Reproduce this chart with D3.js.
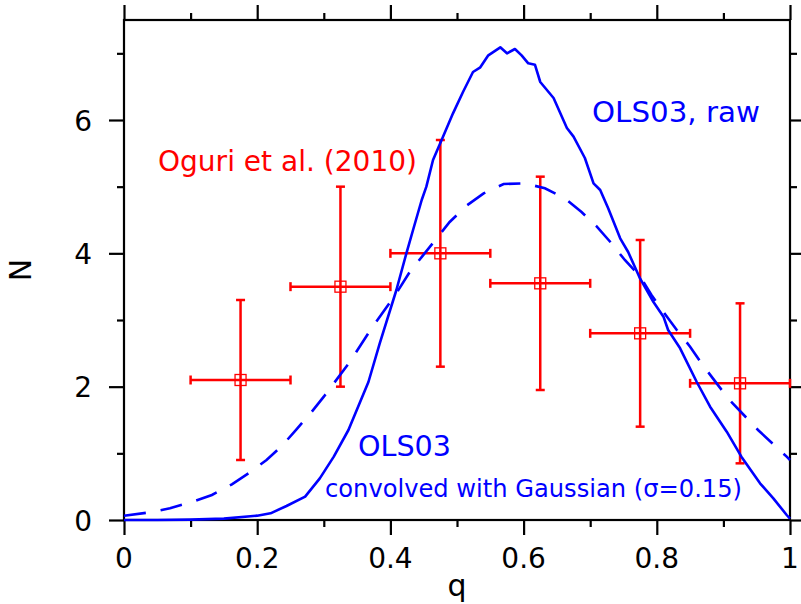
<!DOCTYPE html>
<html><head><meta charset="utf-8">
<script src="https://cdn.jsdelivr.net/npm/d3@7"></script>
<style>body{margin:0;background:#fff} svg{display:block}</style>
</head><body>
<svg id="c" width="801" height="604"></svg>
<script>
// OLS03 raw distribution (solid)
const rawQ = [0, 0.05, 0.1, 0.15, 0.2, 0.22, 0.244, 0.272, 0.294, 0.315, 0.337, 0.367, 0.384, 0.409, 0.424, 0.434, 0.447, 0.454, 0.464, 0.479, 0.494, 0.509, 0.524, 0.535, 0.547, 0.565, 0.575, 0.587, 0.597, 0.607, 0.617, 0.625, 0.645, 0.665, 0.675, 0.692, 0.705, 0.715, 0.727, 0.745, 0.757, 0.775, 0.795, 0.81, 0.817, 0.835, 0.86, 0.88, 0.905, 0.927, 0.955, 0.975, 0.995, 1.0];
const rawN = [0, 0, 0.005, 0.02, 0.065, 0.1, 0.21, 0.35, 0.625, 0.95, 1.35, 2.07, 2.65, 3.45, 4.0, 4.35, 4.8, 5.0, 5.4, 5.75, 6.1, 6.42, 6.72, 6.79, 6.97, 7.09, 7.0, 7.065, 6.97, 6.85, 6.83, 6.57, 6.33, 5.88, 5.75, 5.43, 5.05, 4.95, 4.675, 4.225, 4.02, 3.62, 3.27, 3.05, 2.85, 2.575, 2.07, 1.7, 1.325, 0.95, 0.55, 0.325, 0.075, 0.02];
// OLS03 convolved with Gaussian (dashed)
const convQ = [0, 0.039, 0.069, 0.1, 0.132, 0.162, 0.187, 0.214, 0.237, 0.259, 0.28, 0.3, 0.339, 0.374, 0.407, 0.429, 0.449, 0.489, 0.515, 0.54, 0.57, 0.602, 0.632, 0.662, 0.687, 0.71, 0.732, 0.752, 0.775, 0.792, 0.81, 0.83, 0.85, 0.867, 0.907, 0.952, 0.995, 1.0];
const convN = [0.065, 0.115, 0.175, 0.265, 0.375, 0.535, 0.70, 0.90, 1.11, 1.36, 1.6, 1.85, 2.37, 2.91, 3.37, 3.72, 3.97, 4.47, 4.72, 4.9, 5.04, 5.05, 4.975, 4.825, 4.62, 4.4, 4.15, 3.9, 3.65, 3.375, 3.12, 2.85, 2.6, 2.35, 1.825, 1.35, 0.95, 0.9];
// Oguri et al. (2010)
const binCenter = [0.175, 0.325, 0.475, 0.625, 0.775, 0.925];
const binHalf = [0.075, 0.075, 0.075, 0.075, 0.075, 0.075];
const obsN = [2.1, 3.5, 4.0, 3.55, 2.8, 2.05];
const obsLow = [0.9, 2.0, 2.3, 1.95, 1.4, 0.85];
const obsHigh = [3.3, 5.0, 5.7, 5.15, 4.2, 3.25];
// ticks
const xMajor = [0, 0.2, 0.4, 0.6, 0.8, 1];
const xTickLabels = ["0", "0.2", "0.4", "0.6", "0.8", "1"];
const xMinor = [0.1, 0.3, 0.5, 0.7, 0.9];
const yMajor = [0, 2, 4, 6];
const yTickLabels = ["0", "2", "4", "6"];
const yMinor = [1, 3, 5, 7];

const svg = d3.select("#c");
const FONT = "DejaVu Sans";
const x = d3.scaleLinear().domain([0, 1]).range([124, 790]);
const y = d3.scaleLinear().domain([0, 7.5]).range([520, 20]);
const RED = "#ff0000", BLUE = "#0000ff";

function axisDraw(gen, tx, ty, vals, size) {
  const g = svg.append("g").attr("transform", `translate(${tx},${ty})`)
    .call(gen.tickValues(vals).tickSize(size).tickFormat(""));
  g.select(".domain").remove();
  g.selectAll("line").attr("stroke", "#000").attr("stroke-width", 2.2);
}
axisDraw(d3.axisBottom(x), 0, 520, xMajor, 15);
axisDraw(d3.axisBottom(x), 0, 520, xMinor, 7);
axisDraw(d3.axisTop(x), 0, 20, xMajor, 15);
axisDraw(d3.axisTop(x), 0, 20, xMinor, 7);
axisDraw(d3.axisLeft(y), 124, 0, yMajor, 15);
axisDraw(d3.axisLeft(y), 124, 0, yMinor, 7);
axisDraw(d3.axisRight(y), 790, 0, yMajor, 15);
axisDraw(d3.axisRight(y), 790, 0, yMinor, 7);

svg.append("rect").attr("x", x(0)).attr("y", y(7.5)).attr("width", x(1) - x(0)).attr("height", y(0) - y(7.5))
  .attr("fill", "none").attr("stroke", "#000").attr("stroke-width", 2.2);

// tick labels
svg.append("g").selectAll("text").data(xMajor).join("text")
  .attr("x", d => x(d)).attr("y", 568).attr("text-anchor", "middle")
  .attr("font-family", FONT).attr("font-size", 28).text((d, i) => xTickLabels[i]);
svg.append("g").selectAll("text").data(yMajor).join("text")
  .attr("x", 92).attr("y", d => y(d) + 10.5).attr("text-anchor", "end")
  .attr("font-family", FONT).attr("font-size", 28).text((d, i) => yTickLabels[i]);

// axis titles
svg.append("text").attr("x", 457).attr("y", 596).attr("text-anchor", "middle")
  .attr("font-family", FONT).attr("font-size", 30).text("q");
svg.append("text").attr("transform", "translate(31,270) rotate(-90)").attr("text-anchor", "middle")
  .attr("font-family", FONT).attr("font-size", 30).text("N");

// error bars
const eb = svg.append("g").attr("stroke", RED).attr("stroke-width", 2.5).attr("fill", "none");
binCenter.forEach((c, i) => {
  eb.append("line").attr("x1", x(c)).attr("x2", x(c)).attr("y1", y(obsLow[i])).attr("y2", y(obsHigh[i]));
  eb.append("line").attr("x1", x(c - binHalf[i])).attr("x2", x(c + binHalf[i])).attr("y1", y(obsN[i])).attr("y2", y(obsN[i]));
  [obsLow[i], obsHigh[i]].forEach(v => eb.append("line").attr("x1", x(c) - 4.5).attr("x2", x(c) + 4.5).attr("y1", y(v)).attr("y2", y(v)));
  [c - binHalf[i], c + binHalf[i]].forEach(v => eb.append("line").attr("x1", x(v)).attr("x2", x(v)).attr("y1", y(obsN[i]) - 4.5).attr("y2", y(obsN[i]) + 4.5));
  eb.append("rect").attr("x", x(c) - 5.5).attr("y", y(obsN[i]) - 5.5).attr("width", 11).attr("height", 11)
    .attr("stroke-width", 1.3).attr("fill", "none");
});

// curves
const line = d3.line().x(d => x(d[0])).y(d => y(d[1]));
svg.append("path").datum(rawQ.map((q, i) => [q, rawN[i]])).attr("d", line)
  .attr("fill", "none").attr("stroke", BLUE).attr("stroke-width", 2.6).attr("stroke-linejoin", "round");
svg.append("path").datum(convQ.map((q, i) => [q, convN[i]])).attr("d", line)
  .attr("fill", "none").attr("stroke", BLUE).attr("stroke-width", 2.6).attr("stroke-dasharray", "22,15");

// annotations
svg.append("text").attr("x", 158).attr("y", 171).attr("font-family", FONT).attr("font-size", 28)
  .attr("fill", RED).attr("textLength", 259).attr("lengthAdjust", "spacingAndGlyphs").text("Oguri et al. (2010)");
svg.append("text").attr("x", 592).attr("y", 121.5).attr("font-family", FONT).attr("font-size", 28)
  .attr("fill", BLUE).attr("textLength", 168).attr("lengthAdjust", "spacingAndGlyphs").text("OLS03, raw");
svg.append("text").attr("x", 358).attr("y", 456).attr("font-family", FONT).attr("font-size", 28)
  .attr("fill", BLUE).attr("textLength", 93).attr("lengthAdjust", "spacingAndGlyphs").text("OLS03");
svg.append("text").attr("x", 325).attr("y", 497).attr("font-family", FONT).attr("font-size", 25)
  .attr("fill", BLUE).attr("textLength", 417).attr("lengthAdjust", "spacingAndGlyphs").text("convolved with Gaussian (σ=0.15)");
</script>
</body></html>
